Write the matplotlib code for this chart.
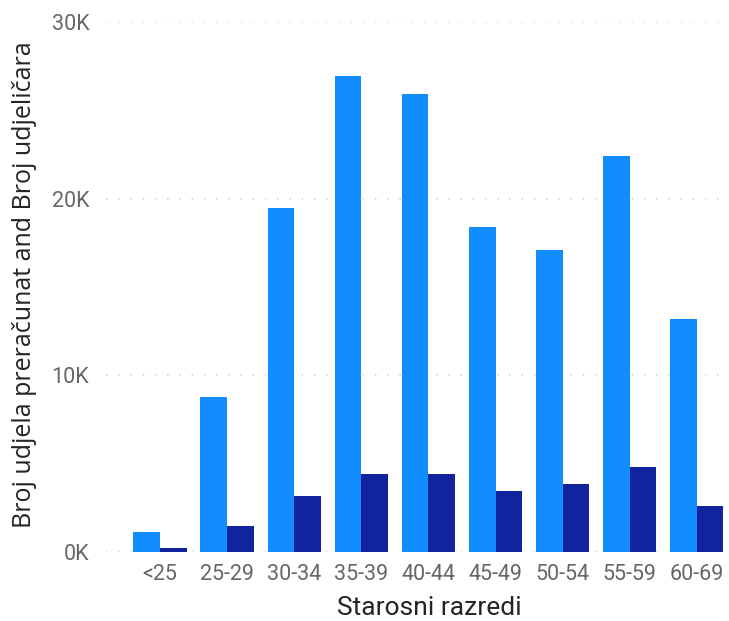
import matplotlib
matplotlib.use("Agg")
import matplotlib.pyplot as plt
import numpy as np
from matplotlib.ticker import FuncFormatter

categories = ["<25", "25-29", "30-34", "35-39", "40-44", "45-49", "50-54", "55-59", "60-69"]
udjeli_preracunat = [1110, 8790, 19490, 26940, 25920, 18380, 17070, 22390, 13190]
udjelicari = [200, 1490, 3170, 4420, 4410, 3430, 3870, 4810, 2590]
y_ticks = [0, 10000, 20000, 30000]

light = "#118DFF"
dark = "#12239E"

W, H = 729, 621
fig = plt.figure(figsize=(W/100, H/100), dpi=100)
ax = fig.add_axes([106/W, 1-552/H, (723-106)/W, (552-22)/H])

x = np.arange(len(categories))
w = 0.397
ax.bar(x - w/2, udjeli_preracunat, width=w, color=light, zorder=3)
ax.bar(x + w/2, udjelicari, width=w, color=dark, zorder=3)

ax.set_xlim(-0.805, 8.39)
ax.set_ylim(0, 30000)
ax.set_yticks(y_ticks)
ax.yaxis.set_major_formatter(FuncFormatter(lambda v, p: f"{int(v/1000)}K"))
ax.set_xticks(x)
ax.set_xticklabels(categories)

for s in ax.spines.values():
    s.set_visible(False)
ax.tick_params(axis="both", length=0)
ax.tick_params(axis="y", pad=12, labelsize=15.5, labelcolor="#666666")
ax.tick_params(axis="x", pad=9, labelsize=15.5, labelcolor="#666666")
for lab in ax.get_xticklabels() + ax.get_yticklabels():
    lab.set_family(["Roboto", "DejaVu Sans"])

ax.grid(axis="y", color="#CFCFCF", linestyle=(0, (1, 7)), linewidth=1.1, zorder=0)
ax.set_axisbelow(True)

fig.text(429/W, 1-608/H, "Starosni razredi", ha="center", va="center",
         fontsize=19, color="#252423", family=["Roboto", "DejaVu Sans"])
fig.text(25/W, 1-285/H, "Broj udjela preračunat and Broj udjeličara",
         rotation=90, ha="center", va="center", fontsize=18, color="#252423",
         family=["Open Sans", "DejaVu Sans"])

fig.savefig("out.png", dpi=100)
